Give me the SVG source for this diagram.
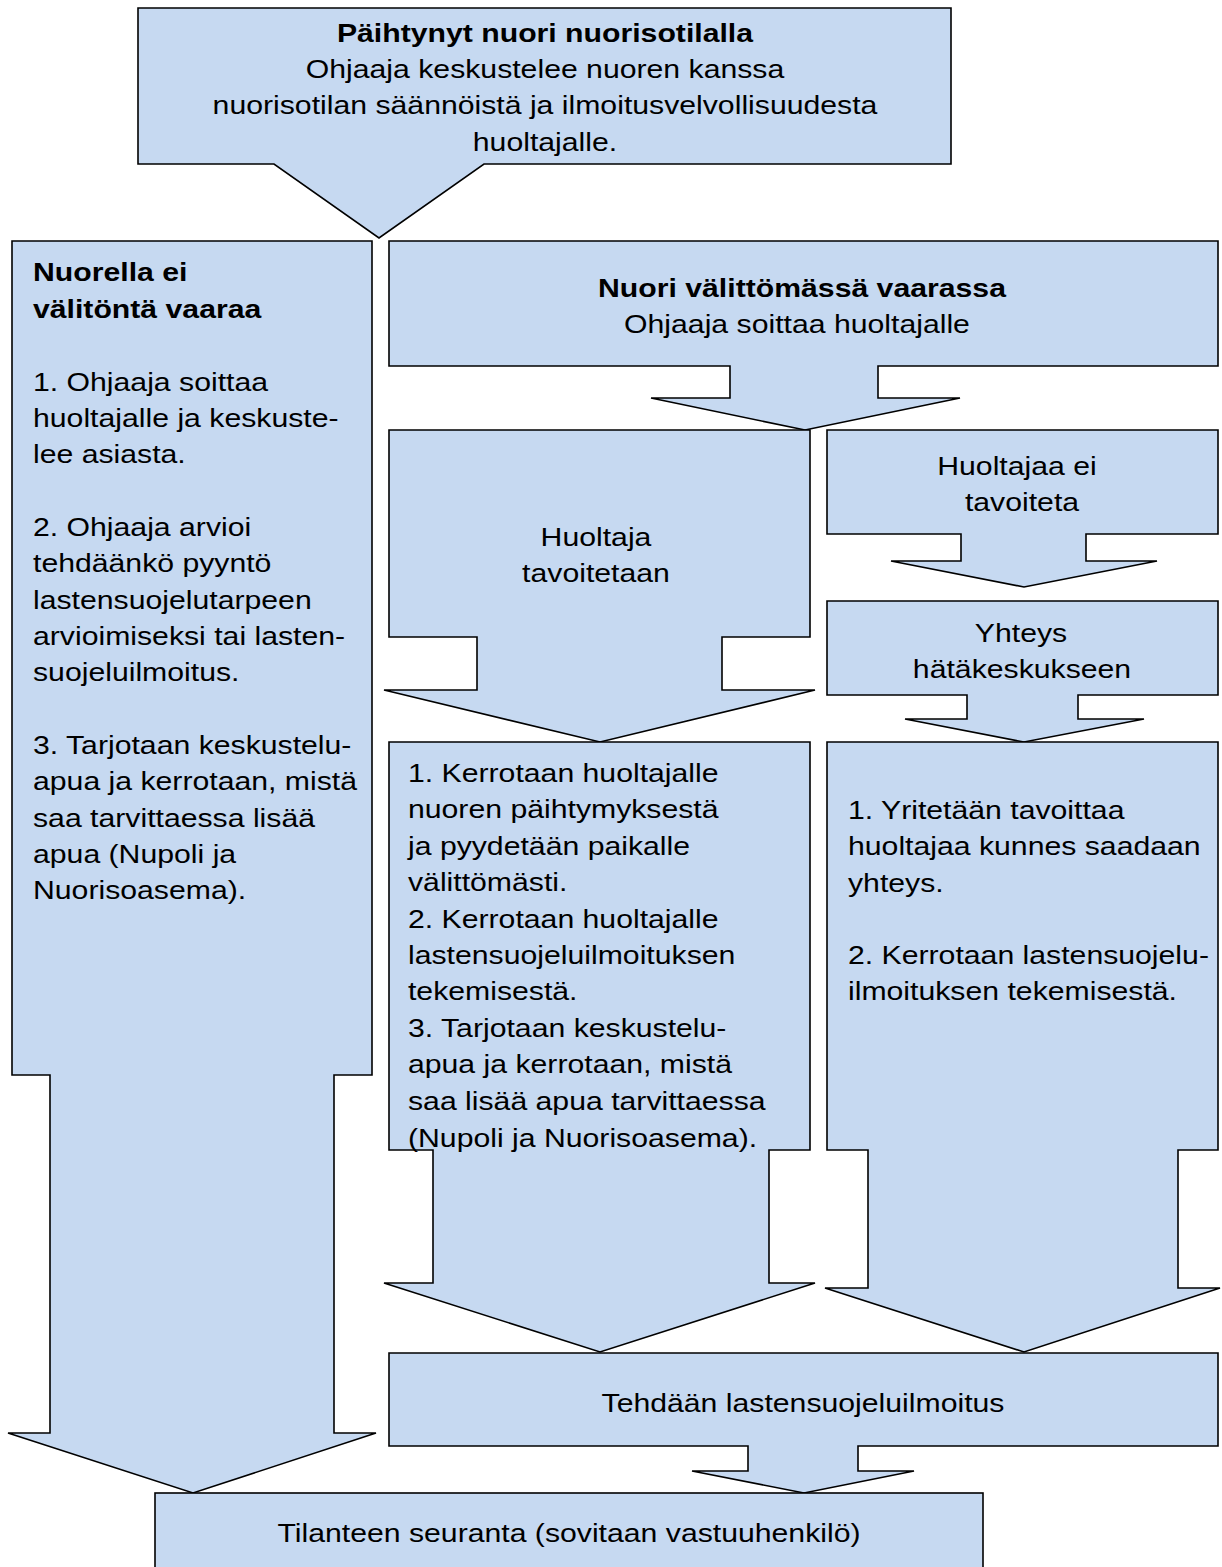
<svg xmlns="http://www.w3.org/2000/svg" width="1222" height="1567" viewBox="0 0 1222 1567">
<style>
.s{fill:#C6D9F1;stroke:#000;stroke-width:1.6;stroke-linejoin:miter}
.t{font-family:"Liberation Sans",Arial,sans-serif;font-size:26.5px;fill:#000}
.b{font-weight:bold}
.c{text-anchor:middle}
</style>
<rect width="1222" height="1567" fill="#fff"/>
<g id="connectors"></g>
<g id="n-top">
<polygon class="s" points="138,8 951,8 951,164 484,164 379,238 274,164 138,164"/>
<text class="t c" transform="scale(1.14,1)"><tspan class="b" x="478.07" y="42">Päihtynyt nuori nuorisotilalla</tspan><tspan x="478.07" y="78">Ohjaaja keskustelee nuoren kanssa</tspan><tspan x="478.07" y="114.5">nuorisotilan säännöistä ja ilmoitusvelvollisuudesta</tspan><tspan x="478.07" y="151">huoltajalle.</tspan></text>
</g>
<g id="n-left">
<polygon class="s" points="12,241 372,241 372,1075 334,1075 334,1433 376,1433 193,1493 8,1433 50,1433 50,1075 12,1075"/>
<text class="t" transform="scale(1.14,1)"><tspan class="b" x="28.95" y="281">Nuorella ei</tspan><tspan class="b" x="28.95" y="318">välitöntä vaaraa</tspan><tspan x="28.95" y="391">1. Ohjaaja soittaa</tspan><tspan x="28.95" y="427">huoltajalle ja keskuste-</tspan><tspan x="28.95" y="463.5">lee asiasta.</tspan><tspan x="28.95" y="536">2. Ohjaaja arvioi</tspan><tspan x="28.95" y="572.5">tehdäänkö pyyntö</tspan><tspan x="28.95" y="609">lastensuojelutarpeen</tspan><tspan x="28.95" y="645">arvioimiseksi tai lasten-</tspan><tspan x="28.95" y="681.5">suojeluilmoitus.</tspan><tspan x="28.95" y="754.5">3. Tarjotaan keskustelu-</tspan><tspan x="28.95" y="790.5">apua ja kerrotaan, mistä</tspan><tspan x="28.95" y="827">saa tarvittaessa lisää</tspan><tspan x="28.95" y="863">apua (Nupoli ja</tspan><tspan x="28.95" y="899.5">Nuorisoasema).</tspan></text>
</g>
<g id="n-danger">
<polygon class="s" points="389,241 1218,241 1218,366 878,366 878,398 960,398 805,430 651,398 730,398 730,366 389,366"/>
<text class="t c" transform="scale(1.14,1)"><tspan class="b" x="703.51" y="297">Nuori välittömässä vaarassa</tspan><tspan x="699.12" y="333">Ohjaaja soittaa huoltajalle</tspan></text>
</g>
<g id="n-reached">
<polygon class="s" points="389,430 810,430 810,637 722,637 722,690 815,690 600,742 384,690 477,690 477,637 389,637"/>
<text class="t c" transform="scale(1.14,1)"><tspan x="522.81" y="546">Huoltaja</tspan><tspan x="522.81" y="582">tavoitetaan</tspan></text>
</g>
<g id="n-notreached">
<polygon class="s" points="827,430 1218,430 1218,534 1086,534 1086,561 1157,561 1024,587 891,561 961,561 961,534 827,534"/>
<text class="t c" transform="scale(1.14,1)"><tspan x="892.11" y="475">Huoltajaa ei</tspan><tspan x="896.49" y="511">tavoiteta</tspan></text>
</g>
<g id="n-emergency">
<polygon class="s" points="827,601 1218,601 1218,695 1078,695 1078,719 1144,719 1024,742 905,719 967,719 967,695 827,695"/>
<text class="t c" transform="scale(1.14,1)"><tspan x="895.61" y="642">Yhteys</tspan><tspan x="896.49" y="678">hätäkeskukseen</tspan></text>
</g>
<g id="n-midlist">
<polygon class="s" points="389,742 810,742 810,1150 769,1150 769,1283 815,1283 600,1352 384,1283 433,1283 433,1150 389,1150"/>
<text class="t" transform="scale(1.14,1)"><tspan x="357.89" y="782">1. Kerrotaan huoltajalle</tspan><tspan x="357.89" y="818">nuoren päihtymyksestä</tspan><tspan x="357.89" y="855">ja pyydetään paikalle</tspan><tspan x="357.89" y="891">välittömästi.</tspan><tspan x="357.89" y="928">2. Kerrotaan huoltajalle</tspan><tspan x="357.89" y="964">lastensuojeluilmoituksen</tspan><tspan x="357.89" y="1000">tekemisestä.</tspan><tspan x="357.89" y="1037">3. Tarjotaan keskustelu-</tspan><tspan x="357.89" y="1073">apua ja kerrotaan, mistä</tspan><tspan x="357.89" y="1110">saa lisää apua tarvittaessa</tspan><tspan x="357.89" y="1147">(Nupoli ja Nuorisoasema).</tspan></text>
</g>
<g id="n-rightlist">
<polygon class="s" points="827,742 1218,742 1218,1150 1178,1150 1178,1288 1220,1288 1024,1352 825,1288 868,1288 868,1150 827,1150"/>
<text class="t" transform="scale(1.14,1)"><tspan x="743.86" y="819">1. Yritetään tavoittaa</tspan><tspan x="743.86" y="855">huoltajaa kunnes saadaan</tspan><tspan x="743.86" y="892">yhteys.</tspan><tspan x="743.86" y="964">2. Kerrotaan lastensuojelu-</tspan><tspan x="743.86" y="1000">ilmoituksen tekemisestä.</tspan></text>
</g>
<g id="n-report">
<polygon class="s" points="389,1353 1218,1353 1218,1446 858,1446 858,1471 914,1471 804,1493 692,1471 748,1471 748,1446 389,1446"/>
<text class="t c" transform="scale(1.14,1)" x="704.39" y="1412">Tehdään lastensuojeluilmoitus</text>
</g>
<g id="n-followup">
<rect class="s" x="155" y="1493" width="828" height="90"/>
<text class="t c" transform="scale(1.14,1)" x="499.12" y="1542">Tilanteen seuranta (sovitaan vastuuhenkilö)</text>
</g>
</svg>
